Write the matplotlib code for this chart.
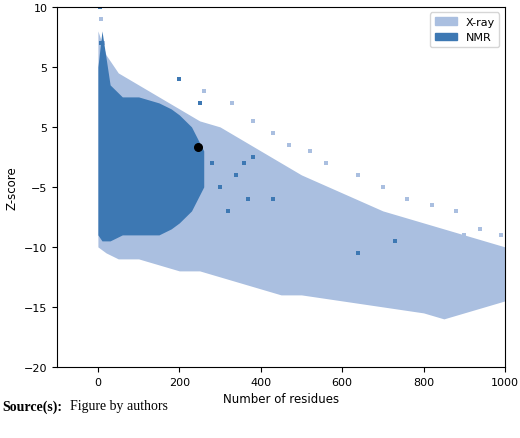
import matplotlib.pyplot as plt
from matplotlib.patches import Patch

# envelope of the dense X-ray cloud
xray_x = [0, 20, 50, 100, 150, 200, 250, 300, 350, 400, 450, 500, 600, 700, 800, 850, 900, 950, 1000]
xray_lo = [-10, -10.5, -11, -11, -11.5, -12, -12, -12.5, -13, -13.5, -14, -14, -14.5, -15, -15.5, -16, -15.5, -15, -14.5]
xray_hi = [8, 6, 4.5, 3.5, 2.5, 1.5, 0.5, 0, -1, -2, -3, -4, -5.5, -7, -8, -8.5, -9, -9.5, -10]

# envelope of the dense NMR cloud
nmr_x = [0, 10, 30, 60, 100, 150, 180, 200, 230, 260]
nmr_lo = [-9, -9.5, -9.5, -9, -9, -9, -8.5, -8, -7, -5]
nmr_hi = [5, 8, 3.5, 2.5, 2.5, 2, 1.5, 1, 0, -2]

# scattered points outside the dense clouds
xray_out_x = [5, 8, 12, 260, 330, 380, 430, 470, 520, 560, 640, 700, 760, 820, 880, 900, 940, 990]
xray_out_y = [10, 9, 7, 3, 2, 0.5, -0.5, -1.5, -2, -3, -4, -5, -6, -6.5, -7, -9, -8.5, -9]
nmr_out_x = [5, 8, 10, 15, 200, 250, 280, 300, 320, 340, 360, 370, 380, 430, 640, 730]
nmr_out_y = [10, 7, 6, 3.5, 4, 2, -3, -5, -7, -4, -3, -6, -2.5, -6, -10.5, -9.5]

fig = plt.figure(figsize=(5.2, 4.39), dpi=100)
ax = fig.add_axes([0.11, 0.162, 0.861, 0.82])

light = '#aabfe0'
dark = '#3d78b3'
ax.fill_between(xray_x, xray_lo, xray_hi, color=light, lw=0)
ax.scatter(xray_out_x, xray_out_y, s=8, marker='s', color=light, lw=0)
ax.fill_between(nmr_x, nmr_lo, nmr_hi, color=dark, lw=0)
ax.scatter(nmr_out_x, nmr_out_y, s=8, marker='s', color=dark, lw=0)
ax.scatter([245], [-1.7], s=30, color='black', zorder=5)

ax.set_xlim(-100, 1000)
ax.set_ylim(-20, 10)
ax.set_xticks([0, 200, 400, 600, 800, 1000])
ax.set_yticks([10, 5, 0, -5, -10, -15, -20])
ax.set_yticklabels(['10', '5', '5', '\u22125', '\u221210', '\u221215', '\u221220'])
ax.tick_params(labelsize=8)
ax.set_xlabel('Number of residues', fontsize=8.5)
ax.set_ylabel('Z-score', fontsize=8.5)
ax.legend(handles=[Patch(color=light, label='X-ray'), Patch(color=dark, label='NMR')],
          loc='upper right', fontsize=8)

fig.text(0.005, 0.065, 'Source(s):', fontsize=10, family='Liberation Serif', weight='bold')
fig.text(0.135, 0.065, 'Figure by authors', fontsize=10, family='Liberation Serif')

fig.savefig('out.png')
